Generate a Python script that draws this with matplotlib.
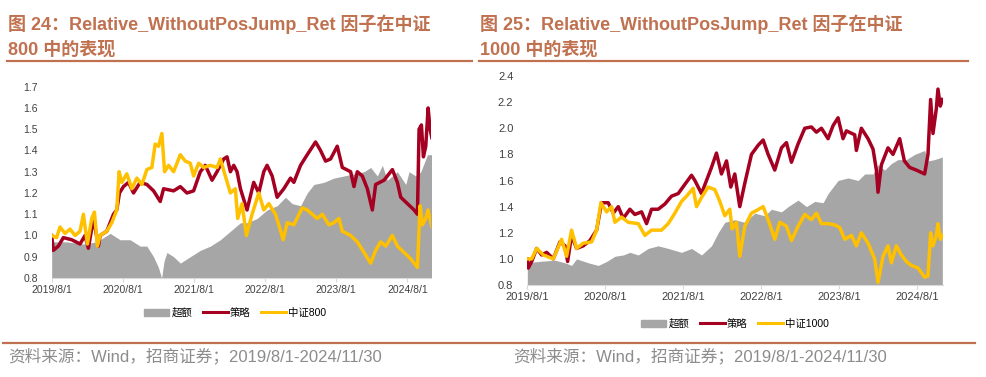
import matplotlib
matplotlib.use("Agg")
import matplotlib.pyplot as plt
from matplotlib.lines import Line2D
from matplotlib.patches import Patch
import numpy as np

plt.rcParams['font.family'] = ['Liberation Sans', 'Noto Sans CJK SC', 'DejaVu Sans']

# colours
RED = "#A50021"
YEL = "#FFC000"
GRAY = "#A6A6A6"
BROWN = "#C0714F"

year_labels = ["2019/8/1", "2020/8/1", "2021/8/1", "2022/8/1", "2023/8/1", "2024/8/1"]

# ---------- 中证800 (t = years since 2019/8/1) ----------
t800_ex = [0, 0.211, 0.446, 0.634, 0.822, 0.962, 1.103, 1.244, 1.338, 1.432, 1.50, 1.545,
           1.58, 1.62, 1.714, 1.808, 1.901, 1.995, 2.089, 2.230, 2.371, 2.512, 2.653, 2.746,
           2.887, 3.028, 3.169, 3.286, 3.380, 3.498, 3.592, 3.685, 3.826, 3.967, 4.108,
           4.249, 4.390, 4.484, 4.577, 4.648, 4.718, 4.859, 4.977, 5.023, 5.117, 5.188,
           5.282, 5.343]
v800_ex = [0.97, 0.97, 0.96, 0.97, 1.01, 0.98, 0.98, 0.95, 0.95, 0.90, 0.85, 0.80,
           0.88, 0.92, 0.90, 0.87, 0.89, 0.91, 0.93, 0.95, 0.98, 1.02, 1.06, 1.06,
           1.08, 1.12, 1.14, 1.18, 1.15, 1.14, 1.20, 1.24, 1.25, 1.27, 1.28,
           1.29, 1.30, 1.32, 1.28, 1.33, 1.26, 1.30, 1.24, 1.30, 1.28, 1.30,
           1.38, 1.38]

t800_st = [0, 0.023, 0.094, 0.164, 0.282, 0.399, 0.469, 0.516, 0.587, 0.657, 0.681, 0.775,
           0.869, 0.915, 0.953, 1.009, 1.080, 1.150, 1.244, 1.338, 1.432, 1.526, 1.573,
           1.714, 1.808, 1.901, 1.995, 2.089, 2.160, 2.254, 2.324, 2.418, 2.465, 2.512,
           2.559, 2.606, 2.653, 2.746, 2.840, 2.911, 2.981, 3.028, 3.099, 3.169, 3.263,
           3.357, 3.404, 3.498, 3.592, 3.709, 3.779, 3.850, 3.920, 4.014, 4.085, 4.202,
           4.249, 4.296, 4.366, 4.437, 4.507, 4.554, 4.671, 4.789, 4.859, 4.906, 5.0,
           5.094, 5.141, 5.164, 5.197, 5.225, 5.258, 5.291, 5.319, 5.343]
v800_st = [1.00, 0.93, 0.95, 0.99, 0.98, 0.96, 1.00, 0.94, 1.08, 0.95, 1.00, 1.02,
           1.10, 1.12, 1.20, 1.23, 1.25, 1.20, 1.25, 1.24, 1.21, 1.16, 1.22,
           1.21, 1.23, 1.20, 1.21, 1.30, 1.33, 1.26, 1.30, 1.36, 1.37, 1.30,
           1.33, 1.30, 1.22, 1.12, 1.25, 1.20, 1.30, 1.33, 1.28, 1.18, 1.22,
           1.27, 1.25, 1.33, 1.38, 1.44, 1.40, 1.35, 1.36, 1.42, 1.32, 1.30,
           1.23, 1.30, 1.28, 1.22, 1.12, 1.24, 1.26, 1.31, 1.25, 1.18, 1.15,
           1.12, 1.10, 1.50, 1.52, 1.37, 1.42, 1.60, 1.50, 1.46]

t800_ix = [0, 0.07, 0.117, 0.188, 0.258, 0.329, 0.399, 0.446, 0.502, 0.563, 0.601, 0.643,
           0.681, 0.775, 0.845, 0.892, 0.915, 0.948, 0.986, 1.056, 1.127, 1.197, 1.268,
           1.338, 1.408, 1.455, 1.502, 1.549, 1.587, 1.643, 1.714, 1.808, 1.878, 1.948,
           1.995, 2.066, 2.136, 2.230, 2.324, 2.371, 2.441, 2.512, 2.582, 2.615, 2.676,
           2.737, 2.817, 2.911, 2.981, 3.052, 3.146, 3.192, 3.254, 3.310, 3.404, 3.521,
           3.592, 3.662, 3.732, 3.803, 3.897, 3.967, 4.038, 4.085, 4.202, 4.296, 4.390,
           4.484, 4.554, 4.624, 4.695, 4.789, 4.859, 4.953, 5.047, 5.141, 5.178, 5.211,
           5.258, 5.291, 5.343]
v800_ix = [1.00, 0.99, 1.04, 1.01, 1.03, 1.00, 1.02, 1.10, 0.96, 1.08, 1.11, 0.95,
           1.00, 1.02, 1.06, 1.10, 1.12, 1.30, 1.25, 1.29, 1.22, 1.27, 1.24,
           1.31, 1.32, 1.43, 1.42, 1.48, 1.30, 1.33, 1.30, 1.38, 1.35, 1.34,
           1.28, 1.34, 1.32, 1.33, 1.32, 1.36, 1.28, 1.20, 1.22, 1.08, 1.15,
           1.00, 1.10, 1.20, 1.12, 1.15, 1.10, 1.05, 0.98, 1.06, 1.05, 1.13,
           1.12, 1.10, 1.08, 1.10, 1.05, 1.06, 1.08, 1.02, 1.00, 0.97, 0.92,
           0.87, 0.93, 0.97, 0.95, 1.00, 0.95, 0.92, 0.89, 0.85, 1.14, 1.05,
           1.08, 1.12, 1.04]

# ---------- 中证1000 ----------
t1000_ex = [0, 0.141, 0.355, 0.483, 0.568, 0.632, 0.782, 0.910, 1.017, 1.124, 1.231, 1.316,
            1.423, 1.551, 1.679, 1.808, 1.979, 2.107, 2.235, 2.363, 2.449, 2.534, 2.662,
            2.791, 2.919, 3.047, 3.132, 3.261, 3.346, 3.474, 3.581, 3.688, 3.795, 3.859,
            3.987, 4.115, 4.244, 4.329, 4.436, 4.5, 4.585, 4.671, 4.756, 4.863, 4.970,
            5.098, 5.141, 5.226, 5.325]
v1000_ex = [0.97, 0.98, 0.99, 0.97, 0.95, 1.00, 0.97, 0.95, 0.98, 1.02, 1.03, 1.05,
            1.03, 1.08, 1.10, 1.08, 1.05, 1.08, 1.03, 1.10, 1.20, 1.28, 1.30,
            1.28, 1.35, 1.33, 1.38, 1.36, 1.40, 1.45, 1.40, 1.44, 1.43, 1.50,
            1.60, 1.62, 1.60, 1.65, 1.65, 1.72, 1.68, 1.73, 1.76, 1.76, 1.80,
            1.83, 1.75, 1.76, 1.78]

t1000_st = [0, 0.013, 0.056, 0.120, 0.184, 0.248, 0.333, 0.419, 0.483, 0.517, 0.568, 0.632,
            0.718, 0.803, 0.889, 0.953, 1.038, 1.103, 1.167, 1.231, 1.316, 1.380, 1.466,
            1.530, 1.594, 1.679, 1.765, 1.850, 1.936, 2.021, 2.107, 2.150, 2.235, 2.299,
            2.363, 2.427, 2.491, 2.556, 2.611, 2.662, 2.726, 2.791, 2.876, 2.962, 3.026,
            3.090, 3.175, 3.261, 3.325, 3.389, 3.474, 3.560, 3.645, 3.709, 3.774, 3.859,
            3.923, 3.987, 4.051, 4.094, 4.201, 4.222, 4.286, 4.372, 4.436, 4.479, 4.5,
            4.543, 4.628, 4.692, 4.778, 4.838, 4.906, 4.991, 5.098, 5.141, 5.175, 5.205,
            5.248, 5.269, 5.299, 5.325]
v1000_st = [1.00, 0.93, 0.98, 1.08, 1.03, 1.05, 1.00, 1.13, 1.10, 0.98, 1.18, 1.08,
            1.10, 1.14, 1.22, 1.43, 1.43, 1.35, 1.40, 1.31, 1.38, 1.34, 1.36,
            1.27, 1.38, 1.38, 1.42, 1.48, 1.50, 1.57, 1.64, 1.60, 1.50, 1.60,
            1.70, 1.81, 1.65, 1.75, 1.55, 1.65, 1.40, 1.58, 1.80, 1.87, 1.91,
            1.80, 1.68, 1.85, 1.89, 1.74, 1.88, 2.00, 2.01, 1.97, 2.00, 1.92,
            2.02, 2.08, 1.92, 1.98, 1.95, 1.83, 2.00, 1.92, 1.84, 1.68, 1.51,
            1.72, 1.85, 1.80, 1.92, 1.75, 1.70, 1.68, 1.65, 1.80, 2.22, 1.96,
            2.15, 2.30, 2.17, 2.22]

t1000_ix = [0, 0.056, 0.120, 0.205, 0.333, 0.440, 0.504, 0.568, 0.632, 0.718, 0.825, 0.889,
            0.944, 1.017, 1.081, 1.124, 1.209, 1.295, 1.423, 1.509, 1.594, 1.722, 1.808,
            1.893, 1.979, 2.043, 2.128, 2.171, 2.235, 2.321, 2.406, 2.470, 2.534, 2.598,
            2.628, 2.684, 2.726, 2.791, 2.876, 2.940, 3.026, 3.090, 3.175, 3.239, 3.325,
            3.389, 3.474, 3.560, 3.645, 3.709, 3.774, 3.859, 3.944, 4.009, 4.073, 4.158,
            4.222, 4.286, 4.372, 4.457, 4.5, 4.564, 4.628, 4.671, 4.735, 4.799, 4.863,
            4.927, 5.013, 5.098, 5.141, 5.175, 5.205, 5.248, 5.269, 5.299, 5.325]
v1000_ix = [1.00, 1.00, 1.08, 1.03, 1.00, 1.15, 1.02, 1.22, 1.08, 1.12, 1.13, 1.22,
            1.43, 1.36, 1.40, 1.28, 1.32, 1.28, 1.27, 1.18, 1.22, 1.22, 1.27,
            1.35, 1.44, 1.48, 1.54, 1.40, 1.47, 1.55, 1.53, 1.44, 1.33, 1.38,
            1.23, 1.28, 1.02, 1.25, 1.35, 1.37, 1.40, 1.30, 1.15, 1.28, 1.25,
            1.14, 1.25, 1.34, 1.30, 1.35, 1.27, 1.27, 1.26, 1.24, 1.15, 1.18,
            1.10, 1.20, 1.12, 1.00, 0.82, 1.02, 1.10, 0.97, 1.10, 1.03, 0.98,
            0.95, 0.93, 0.86, 0.87, 1.20, 1.10, 1.18, 1.27, 1.15, 1.18]

panels = [
    dict(rect=[0.0524, 0.2626, 0.3846, 0.5074], tex=t800_ex, vex=v800_ex, tst=t800_st, vst=v800_st,
         tix=t800_ix, vix=v800_ix, ylim=(0.8, 1.7), yticks=np.arange(0.8, 1.71, 0.1),
         idx="中证800", fs=7.5, leg=(0.2385, 0.170),
         title1="图 24：Relative_WithoutPosJump_Ret 因子在中证", title2="800 中的表现",
         tx=8 / 986, fx=8 / 986),
    dict(rect=[0.5348, 0.2440, 0.4213, 0.5544], tex=t1000_ex, vex=v1000_ex, tst=t1000_st, vst=v1000_st,
         tix=t1000_ix, vix=v1000_ix, ylim=(0.8, 2.4), yticks=np.arange(0.8, 2.41, 0.2),
         idx="中证1000", fs=8, leg=(0.7455, 0.141),
         title1="图 25：Relative_WithoutPosJump_Ret 因子在中证", title2="1000 中的表现",
         tx=480 / 986, fx=513 / 986),
]

fig = plt.figure(figsize=(9.86, 3.77), dpi=100)

for p in panels:
    ax = fig.add_axes(p["rect"])
    ax.fill_between(p["tex"], p["ylim"][0], p["vex"], color=GRAY, lw=0, zorder=1)
    ax.plot(p["tst"], p["vst"], color=RED, lw=2.5, zorder=2)
    ax.plot(p["tix"], p["vix"], color=YEL, lw=2.5, zorder=3)
    ax.set_xlim(0, 5.33)
    ax.set_ylim(*p["ylim"])
    ax.set_yticks(p["yticks"])
    ax.set_yticklabels([f"{v:.1f}" for v in p["yticks"]])
    ax.set_xticks(range(6))
    ax.set_xticklabels(year_labels)
    for s in ["top", "right", "left"]:
        ax.spines[s].set_visible(False)
    ax.spines["bottom"].set_color("#D9D9D9")
    ax.tick_params(axis="y", length=0, pad=10, labelsize=p["fs"], labelcolor="#404040")
    ax.tick_params(axis="x", length=3, color="#D9D9D9", pad=2, labelsize=p["fs"], labelcolor="#404040")

    handles = [Patch(color=GRAY), Line2D([], [], color=RED, lw=2.2), Line2D([], [], color=YEL, lw=2.2)]
    fig.legend(handles, ["超额", "策略", p["idx"]], loc="center", bbox_to_anchor=p["leg"], ncol=3,
               frameon=False, fontsize=7.5, handlelength=2.4, handletextpad=0.2, columnspacing=1.0)

    fig.text(p["tx"], 1 - 30 / 377, p["title1"], color=BROWN, fontsize=13, fontweight="bold", va="baseline")
    fig.text(p["tx"], 1 - 55 / 377, p["title2"], color=BROWN, fontsize=13, fontweight="bold", va="baseline")
    fig.text(p["fx"], 1 - 361 / 377, "资料来源：Wind，招商证券；2019/8/1-2024/11/30",
             color="#8C8C8C", fontsize=12, va="baseline")

# title underlines and footer rule
fig.add_artist(Line2D([7 / 986, 472 / 986], [1 - 61 / 377] * 2, color=BROWN, lw=1.6))
fig.add_artist(Line2D([479 / 986, 968 / 986], [1 - 61 / 377] * 2, color=BROWN, lw=1.6))
fig.add_artist(Line2D([3 / 986, 975 / 986], [1 - 343 / 377] * 2, color=BROWN, lw=1.6))

fig.savefig("out.png", dpi=100)
